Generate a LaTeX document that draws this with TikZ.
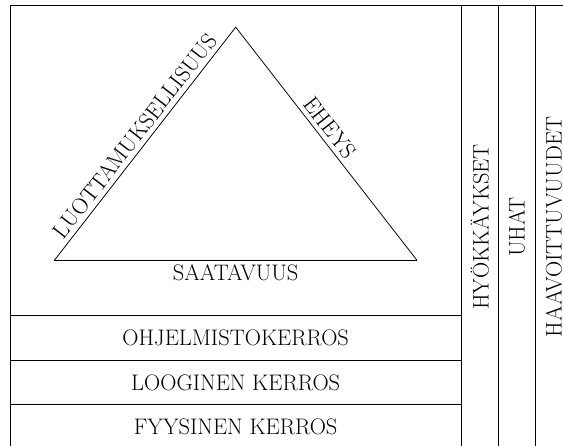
\documentclass[tikz,border=0pt]{standalone}
\usetikzlibrary{positioning}

\begin{document}
\begin{tikzpicture}[
    every node/.style={font=\LARGE},
    frame/.style={draw=black, semithick, minimum width=12.2cm, minimum height=12cm,
        inner sep=0pt, outer sep=0pt},
    layer/.style={draw=black, semithick, minimum width=12.2cm, minimum height=1.2cm,
        inner sep=0pt, outer sep=0pt},
    column/.style={draw=black, semithick, rotate=90, minimum width=12cm,
        minimum height=1cm, inner sep=0pt, outer sep=0pt},
    edge/.style={draw=black, semithick}
]
\path[use as bounding box, clip] (-0.270,0.108) rectangle (14.946,12.135);
% Frame and layers
\node[frame] (frame) at (6.1,6) {};
\node[layer] (fyys) at (6.1,0.6) {FYYSINEN KERROS};
\node[layer, above=0pt of fyys] (loog) {LOOGINEN KERROS};
\node[layer, above=0pt of loog] (ohj) {OHJELMISTOKERROS};
% Side columns
\node[column] (hyok) at (12.7,6) {HYÖKKÄYKSET};
\node[column] (uhat) at (13.7,6) {UHAT};
\node[column] (haav) at (14.7,6) {HAAVOITTUVUUDET};
% Triangle
\coordinate (L) at (1.2,5.1);
\coordinate (T) at (6.1,11.4);
\coordinate (R) at (11,5.1);
\draw[edge] (L) -- node[sloped, above, pos=0.5] (luot) {LUOTTAMUKSELLISUUS} (T)
    -- node[sloped, above, pos=0.465] (eheys) {EHEYS} (R);
\draw[edge] (L) -- node[below] (saat) {SAATAVUUS} (R);
\end{tikzpicture}
\end{document}
